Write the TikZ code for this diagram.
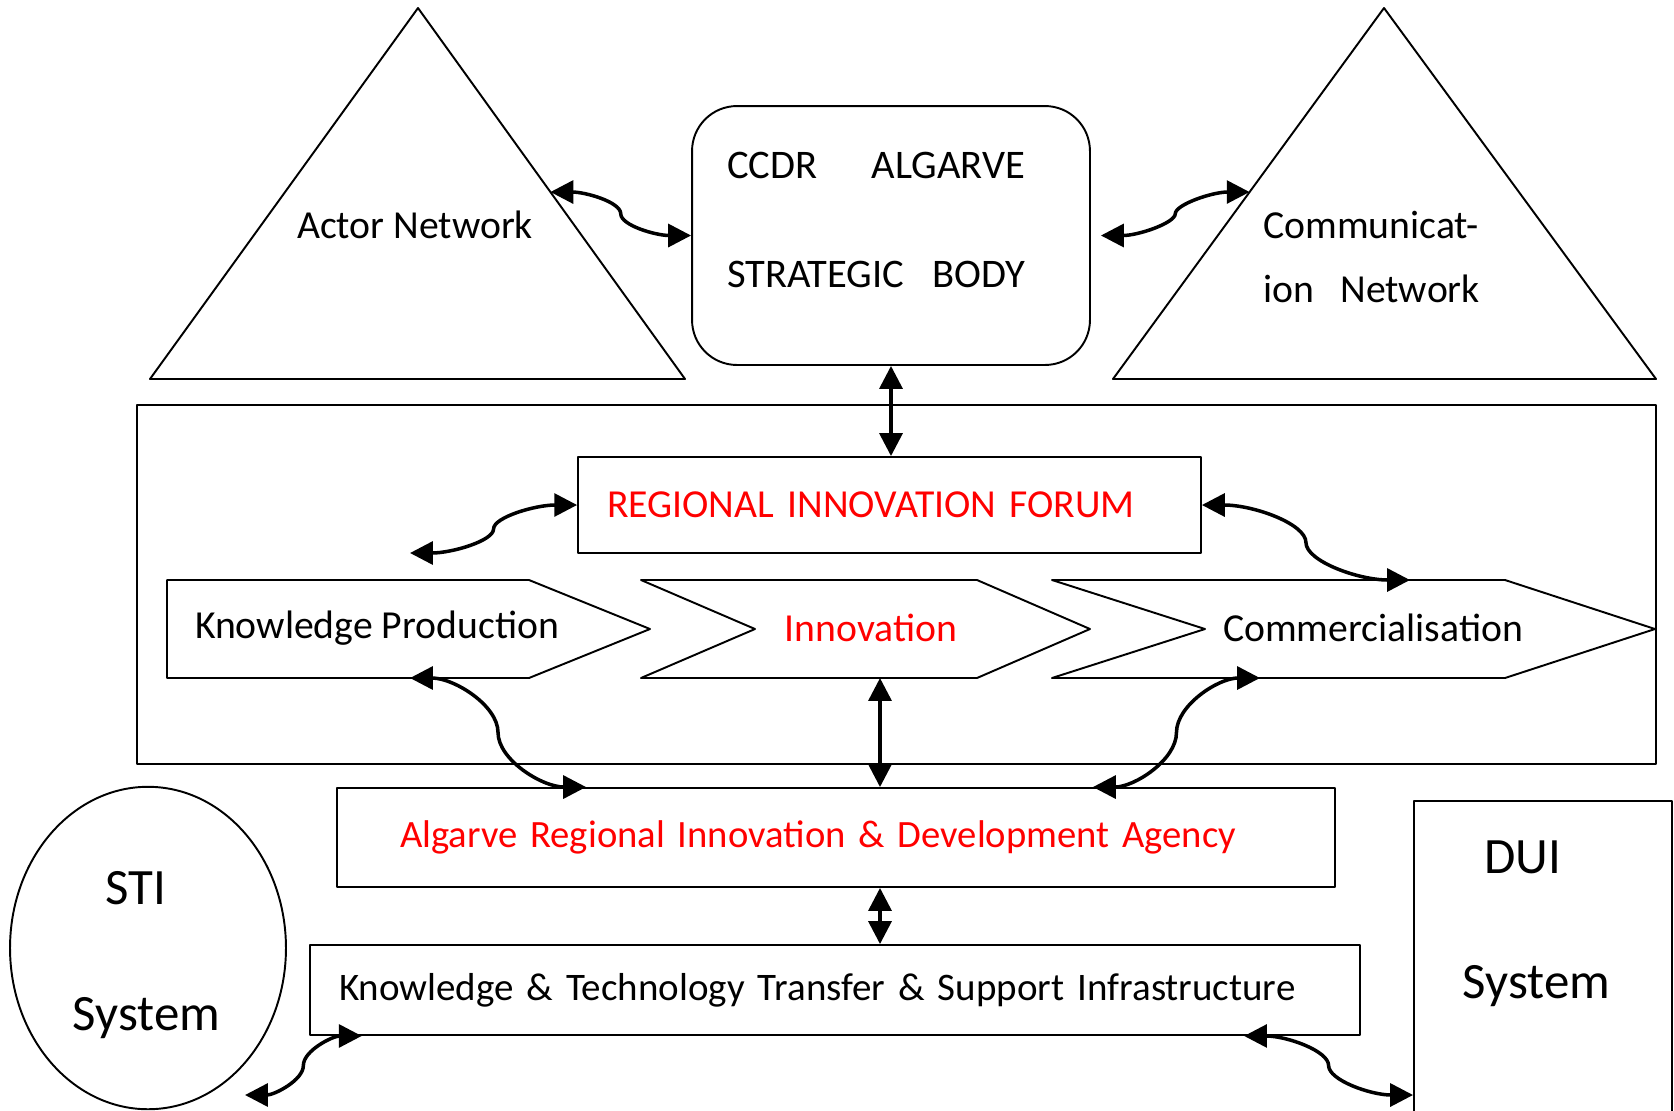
\documentclass[tikz,border=0pt]{standalone}
\usepackage{fontspec}
\setmainfont{Carlito}
\usetikzlibrary{arrows.meta,calc,shapes.geometric}

\begin{document}
\begin{tikzpicture}[line join=round,>={Triangle[length=13pt,width=13pt]},x=0.02cm,y=-0.02cm]
		\tikzset{every node/.style={font=\fontsize{22.6}{27}\selectfont},
			shp/.style={draw,line width=1.1pt},
			box/.style={shp,rectangle,align=left,inner ysep=0pt},
			lnk/.style={<->,line width=2pt},
			big/.style={font=\fontsize{29}{35}\selectfont,align=center},
			arm/.style 2 args={out looseness=#1,in looseness=#2}}
		\useasboundingbox (0,0) rectangle (1674,1110);
		% triangles
		\coordinate (actA) at (418,8);
		\coordinate (comA) at (1384,8);
		\draw[shp] (150,379) -- (actA) -- (685,379) -- cycle;
		\draw[shp] (1113,379) -- (comA) -- (1656,379) -- cycle;
		\coordinate (actE) at ($(actA)!0.496!(685,379)$);
		\coordinate (comW) at ($(comA)!0.496!(1113,379)$);
		\node (actor) at (415,225) {Actor Network};
		\node[anchor=west,align=left] (comm) at (1257,257) {Communicat-\\[9pt]ion\hspace{15pt}Network};
		% strategic body
		\node[shp,rounded corners=0.9cm,minimum width=7.96cm,minimum height=5.18cm] (ccdr) at (891,235.5) {};
		\node[anchor=west,align=left,font=\fontsize{23.1}{28}\selectfont] (ccdrtext) at (721,220) {CCDR\hspace{31pt}ALGARVE\\[34pt]STRATEGIC\hspace{16pt}BODY};
		% innovation frame
		\draw[shp] (137,405) rectangle (1656,764);
		\node[box,text=red,minimum height=1.92cm,text width=11.3cm,inner xsep=0.58cm] (forum) at (889.5,505) {REGIONAL INNOVATION FORUM};
		\foreach \a/\n/\b/\c in {167/0/529/650,641/114/977/1090,1052/153/1505/1655}
		\draw[shp] (\a,580) -- (\b,580) -- (\c,629) -- (\b,678) -- (\a,678) -- (\a+\n,629) -- cycle;
		\node (kp) at (377,628) {Knowledge Production};
		\node[text=red] (inn) at (871,628) {Innovation};
		\node (com) at (1373,628) {Commercialisation};
		\coordinate (kpT) at (410,553);
		\coordinate (kpB) at (410,678);
		\coordinate (innB) at (880,678);
		\coordinate (comT) at (1410,580);
		\coordinate (comB) at (1260,678);
		% agency and infrastructure
		\node[box,text=red,font=\fontsize{22}{26}\selectfont,minimum height=1.98cm,text width=17.44cm,inner xsep=1.26cm] (agency) at (836,837.5) {Algarve Regional Innovation \& Development Agency};
		\node[box,font=\fontsize{22.2}{26}\selectfont,minimum height=1.8cm,text width=19.84cm,inner xsep=0.58cm] (ktt) at (835,990) {Knowledge \& Technology Transfer \& Support Infrastructure};
		% systems
		\node[shp,ellipse,minimum width=5.52cm,minimum height=6.45cm,inner sep=0pt] (sti) at (148,948) {};
		\node[big] (stitext) at (136,955) {STI\\[37pt]\hspace*{12pt}System};
		\node[shp,anchor=north,minimum width=5.16cm,minimum height=6.4cm] (dui) at (1543,800) {};
		\node[big] (duitext) at (1533,924) {DUI\hspace*{12pt}\\[36pt]\hspace*{4pt}System};
		\coordinate (stiP) at (245,1095);
		% links
		\draw[lnk] (actE) to[out=0,in=90,arm={1.21}{.41}] ($(actE)!.5!(ccdr.west)$) to[out=-90,in=180,arm={.41}{1.21}] (ccdr.west);
		\draw[lnk] ([xshift=0.2cm]ccdr.east) to[out=0,in=-90,arm={1.24}{.3}] ($([xshift=0.2cm]ccdr.east)!.5!(comW)$) to[out=90,in=180,arm={.3}{1.24}] (comW);
		\draw[lnk] (ccdr.south) -- (ccdr.south |- forum.north);
		\draw[lnk] (kpT) to[out=0,in=-90,arm={1.23}{.35}] ($(kpT)!.5!(forum.west)$) to[out=90,in=180,arm={.35}{1.23}] (forum.west);
		\draw[lnk] (forum.east) to[out=0,in=90,arm={1.2}{.43}] ($(forum.east)!.5!(comT)$) to[out=-90,in=180,arm={.43}{1.2}] (comT);
		\draw[lnk] (kpB) to[out=0,in=90,arm={1.09}{.67}] ($(kpB)!.5!($(agency.north west)!.25!(agency.north east)$)$) to[out=-90,in=180,arm={.67}{1.09}] ($(agency.north west)!.25!(agency.north east)$);
		\draw[lnk] (innB) -- (innB |- agency.north);
		\draw[lnk] (comB) to[out=180,in=90,arm={1.07}{.7}] ($(comB)!.5!($(agency.north west)!.757!(agency.north east)$)$) to[out=-90,in=0,arm={.7}{1.07}] ($(agency.north west)!.757!(agency.north east)$);
		\draw[lnk] (agency.south -| innB) -- (ktt.north -| innB);
		\draw[lnk] (stiP) to[out=0,in=-90,arm={1.14}{.58}] ($(stiP)!.5!($(ktt.south west)!.05!(ktt.south east)$)$) to[out=90,in=180,arm={.58}{1.14}] ($(ktt.south west)!.05!(ktt.south east)$);
		\draw[lnk] ($(ktt.south west)!.889!(ktt.south east)$) to[out=0,in=90,arm={1.21}{.42}] ($($(ktt.south west)!.889!(ktt.south east)$)!.5!(dui.west |- stiP)$) to[out=-90,in=180,arm={.42}{1.21}] (dui.west |- stiP);
\end{tikzpicture}
\end{document}
